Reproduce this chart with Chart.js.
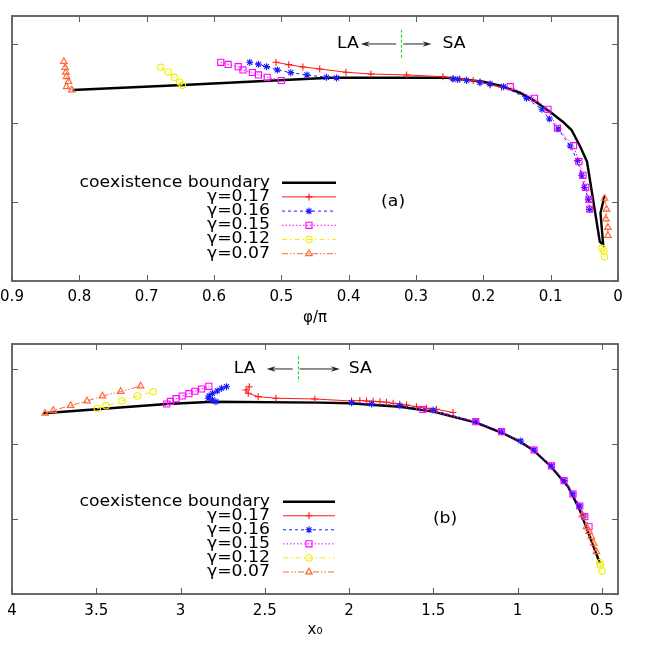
<!DOCTYPE html>
<html><head><meta charset="utf-8">
<script src="https://cdn.jsdelivr.net/npm/chart.js@4/dist/chart.umd.min.js"></script>
<style>
html,body{margin:0;padding:0;background:#fff;overflow:hidden;width:654px;height:654px}
.wrap{position:absolute;left:0;width:654px}
canvas{display:block}
</style></head><body>
<div class="wrap" style="top:0;height:330px"><canvas id="ca"></canvas></div>
<div class="wrap" style="top:330px;height:324px"><canvas id="cb"></canvas></div>
<script>
// ---------- data ----------
const seriesLabels = ['coexistence boundary','γ=0.17','γ=0.16','γ=0.15','γ=0.12','γ=0.07'];

// panel (a): x = phi/pi
const aBoundaryX = [0.810,0.646,0.428,0.254,0.200,0.175,0.146,0.126,0.101,0.082,0.069,0.056,0.046,0.027,0.022,0.026,0.020];
const aBoundaryY = [2.418,2.481,2.573,2.573,2.523,2.472,2.384,2.291,2.143,2.016,1.911,1.700,1.510,0.497,0.456,0.861,1.076];
const aG17X = [0.508,0.489,0.468,0.443,0.404,0.367,0.314,0.260,0.245,0.235,0.225,0.215,0.205,0.190,0.173];
const aG17Y = [2.768,2.738,2.709,2.684,2.642,2.620,2.608,2.586,2.563,2.557,2.544,2.538,2.523,2.481,2.452];
const aG16X = [0.547,0.534,0.522,0.506,0.486,0.462,0.433,0.418,null,0.245,0.238,0.225,0.205,0.190,0.170,0.136,0.113,0.102,0.089,0.071,0.060,0.054,0.050,0.044,0.042];
const aG16Y = [2.768,2.743,2.713,2.671,2.637,2.608,2.578,2.570,null,2.557,2.551,2.538,2.510,2.494,2.459,2.313,2.173,2.051,1.924,1.709,1.523,1.338,1.184,1.034,0.905];
const aG15X = [0.590,0.579,0.564,0.557,0.543,0.534,0.521,0.500,null,0.160,0.124,0.104,0.090,0.066,0.058,0.052,0.048,0.043,0.042];
const aG15Y = [2.768,2.741,2.713,2.671,2.639,2.608,2.578,2.538,null,2.459,2.313,2.173,1.933,1.713,1.510,1.338,1.186,1.034,0.908];
const aG12X = [0.679,0.668,0.659,0.651,0.647,null,0.024,0.021,0.020];
const aG12Y = [2.705,2.646,2.578,2.519,2.477,null,0.414,0.384,0.308];
const aG07X = [0.823,0.821,0.820,0.819,0.816,0.819,0.811,null,0.020,0.017,0.018,0.015,0.015];
const aG07Y = [2.776,2.700,2.642,2.586,2.523,2.459,2.418,null,1.047,0.908,0.785,0.677,0.576];

// panel (b): x = x0
const bBoundaryX = [3.814,3.082,2.806,2.173,1.995,1.699,1.501,1.245,1.086,0.987,0.908,0.810,0.700,0.631,0.512];
const bBoundaryY = [2.409,2.533,2.564,2.551,2.543,2.497,2.431,2.284,2.143,2.031,1.920,1.720,1.431,1.120,0.413];
const bG17X = [2.592,2.612,2.598,2.539,2.434,2.203,1.985,1.936,1.896,1.857,1.817,1.778,1.738,1.699,1.659,1.600,1.540,1.481,1.383];
const bG17Y = [2.764,2.720,2.676,2.631,2.609,2.600,2.573,2.580,2.573,2.569,2.564,2.556,2.543,2.529,2.520,2.497,2.476,2.463,2.420];
const bG16X = [2.727,2.756,2.782,2.810,2.830,2.836,2.810,2.790,null,1.985,1.866,1.699,1.501,1.248,1.095,0.981,0.902,0.799,0.724,0.671,0.631,0.607];
const bG16Y = [2.764,2.743,2.707,2.676,2.640,2.609,2.587,2.564,null,2.551,2.533,2.511,2.453,2.297,2.164,2.040,1.920,1.707,1.511,1.333,1.173,1.040];
const bG15X = [3.082,3.060,3.027,2.990,2.950,2.915,2.875,2.832,null,1.562,1.248,1.095,0.902,0.799,0.724,0.671,0.631,0.601,0.576];
const bG15Y = [2.533,2.567,2.604,2.640,2.671,2.703,2.733,2.769,null,2.460,2.297,2.164,1.920,1.707,1.511,1.333,1.173,1.033,0.897];
const bG12X = [3.494,3.442,3.348,3.256,3.162,null,0.512,0.508,0.499];
const bG12Y = [2.473,2.509,2.573,2.640,2.697,null,0.417,0.387,0.307];
const bG07X = [3.804,3.755,3.652,3.555,3.463,3.355,3.237,null,0.615,0.591,0.576,0.562,0.548,0.532];
const bG07Y = [2.409,2.447,2.513,2.573,2.640,2.700,2.773,null,1.053,0.897,0.831,0.764,0.676,0.564];

// tick values
const aXTicks = [0.9,0.8,0.7,0.6,0.5,0.4,0.3,0.2,0.1,0];
const bXTicks = [4,3.5,3,2.5,2,1.5,1,0.5];
const yTicks = [0,1,2,3];

// ---------- styles ----------
const STYLES = [
  {color:'#000000', width:2.4, dash:[], point:false, r:0},
  {color:'#ff1a1a', width:1, dash:[], point:'cross', r:3.5},
  {color:'#1a1aff', width:1, dash:[3,3], point:'star', r:3.5},
  {color:'#ff00ff', width:1, dash:[1.5,2], point:'rect', r:4.3},
  {color:'#f0f000', width:1, dash:[5,3,1.5,3], point:'circle', r:3.2},
  {color:'#ff6633', width:1, dash:[6,2,1.5,2,1.5,2], point:'triangle', r:3.8}
];
const FONT = '"DejaVu Sans", sans-serif';

function pts(xs, ys){ return xs.map((x,i)=>({x:x, y:ys[i]})); }
function makeDatasets(xList, yList){
  return xList.map((xs,i)=>{
    const s = STYLES[i];
    return {
      label: seriesLabels[i], data: pts(xs, yList[i]), showLine:true, spanGaps:false,
      borderColor:s.color, borderWidth:s.width, borderDash:s.dash, backgroundColor:'rgba(0,0,0,0)',
      pointStyle: s.point || 'circle', pointRadius: s.point ? s.r : 0,
      pointBorderColor:s.color, pointBackgroundColor:'rgba(0,0,0,0)', pointBorderWidth:1.1,
      order: 6 - i, tension:0
    };
  });
}
const fmt = v => String(Number(Number(v).toFixed(2)));

function sText(ctx, txt, x, y, align, size){
  ctx.save();
  ctx.font = size + 'px ' + FONT;
  ctx.textBaseline = 'middle';
  ctx.textAlign = align;
  ctx.fillStyle = '#000';
  ctx.translate(x, y);
  ctx.scale(1.15, 1);
  ctx.fillText(txt, 0, 0);
  ctx.restore();
}

const panelPlugin = {
  id:'panel',
  afterDraw(chart, args, o){
    const ctx = chart.ctx, ca = chart.chartArea, xs = chart.scales.x, ys = chart.scales.y;
    ctx.save();
    // inward tick marks (mirrored)
    ctx.strokeStyle = '#5c5c5c'; ctx.lineWidth = 1; ctx.setLineDash([]);
    ctx.beginPath();
    xs.ticks.forEach(t=>{
      const px = Math.round(xs.getPixelForValue(t.value)) + 0.5;
      ctx.moveTo(px, ca.bottom); ctx.lineTo(px, ca.bottom - 6);
      ctx.moveTo(px, ca.top); ctx.lineTo(px, ca.top + 6);
    });
    ys.ticks.forEach(t=>{
      const py = Math.round(ys.getPixelForValue(t.value)) + 0.5;
      ctx.moveTo(ca.left, py); ctx.lineTo(ca.left + 6, py);
      ctx.moveTo(ca.right, py); ctx.lineTo(ca.right - 6, py);
    });
    ctx.stroke();
    ctx.lineWidth = 1.8; ctx.strokeStyle = '#5c5c5c';
    ctx.strokeRect(ca.left, ca.top, ca.right - ca.left, ca.bottom - ca.top);

    // legend
    const L = o.legend;
    chart.data.datasets.forEach((ds, i)=>{
      const y = ca.top + L.top + i * L.rowH;
      sText(ctx, ds.label, L.textRight, y, 'right', 15);
      const s = STYLES[i];
      ctx.save();
      ctx.strokeStyle = s.color; ctx.lineWidth = s.width; ctx.setLineDash(s.dash);
      ctx.beginPath(); ctx.moveTo(L.x1, y); ctx.lineTo(L.x2, y); ctx.stroke();
      ctx.setLineDash([]);
      if (s.point){
        ctx.strokeStyle = s.color; ctx.fillStyle = 'rgba(0,0,0,0)'; ctx.lineWidth = 1.1;
        Chart.helpers.drawPoint(ctx, {pointStyle:s.point, radius:s.r, rotation:0, borderWidth:1.1}, (L.x1 + L.x2) / 2, y);
      }
      ctx.restore();
    });

    // LA / SA arrows
    const A = o.arrows;
    const ay = ys.getPixelForValue(A.y);
    const pd = xs.getPixelForValue(A.divider);
    const pl = xs.getPixelForValue(A.left);
    const pr = xs.getPixelForValue(A.right);
    ctx.strokeStyle = '#222'; ctx.fillStyle = '#222'; ctx.lineWidth = 1; ctx.setLineDash([]);
    ctx.beginPath(); ctx.moveTo(pd - 5, ay); ctx.lineTo(pl + 4, ay); ctx.stroke();
    ctx.beginPath(); ctx.moveTo(pl, ay); ctx.lineTo(pl + 9, ay - 2.8); ctx.lineTo(pl + 6, ay); ctx.lineTo(pl + 9, ay + 2.8); ctx.closePath(); ctx.fill();
    ctx.beginPath(); ctx.moveTo(pd + 2, ay); ctx.lineTo(pr - 4, ay); ctx.stroke();
    ctx.beginPath(); ctx.moveTo(pr, ay); ctx.lineTo(pr - 9, ay - 2.8); ctx.lineTo(pr - 6, ay); ctx.lineTo(pr - 9, ay + 2.8); ctx.closePath(); ctx.fill();
    ctx.strokeStyle = '#22dd22'; ctx.lineWidth = 1.2; ctx.setLineDash([3,2]);
    ctx.beginPath();
    ctx.moveTo(Math.round(pd) + 0.5, ys.getPixelForValue(A.y + A.half));
    ctx.lineTo(Math.round(pd) + 0.5, ys.getPixelForValue(A.y - A.half));
    ctx.stroke(); ctx.setLineDash([]);
    sText(ctx, 'LA', pl - A.laGap, ay, 'right', 15);
    sText(ctx, 'SA', pr + A.saGap, ay, 'left', 15);

    // panel tag
    sText(ctx, o.tag.text, xs.getPixelForValue(o.tag.x), ys.getPixelForValue(o.tag.y), 'center', 15);
    ctx.restore();
  }
};

function makePanel(id, cfg){
  return new Chart(document.getElementById(id), {
    type:'scatter',
    data:{ datasets: makeDatasets(cfg.xs, cfg.ys) },
    plugins:[panelPlugin],
    options:{
      responsive:true, maintainAspectRatio:false, animation:false, devicePixelRatio:1,
      layout:{ padding:{ top:cfg.padTop, right:36, left:0, bottom:0 } },
      plugins:{ legend:{display:false}, tooltip:{enabled:false}, panel:cfg.panel },
      scales:{
        x:{
          type:'linear', reverse:true, min:cfg.xMin, max:cfg.xMax,
          afterBuildTicks: s => { s.ticks = cfg.xTicks.map(v=>({value:v})); },
          afterFit: s => { s.height = cfg.xAxisH; s.paddingLeft = 0; s.paddingRight = 0; },
          grid:{ display:false, drawTicks:false }, border:{ display:false },
          ticks:{ callback: fmt, color:'#000', font:{ family:FONT, size:15 }, padding:cfg.tickPad, maxRotation:0, autoSkip:false },
          title:{ display:true, text:cfg.xTitle, color:'#000', font:{ family:FONT, size:15 }, padding:{ top:0, bottom:cfg.titlePad } }
        },
        y:{
          type:'linear', min:0, max:cfg.yMax,
          afterBuildTicks: s => { s.ticks = yTicks.map(v=>({value:v})); },
          afterFit: s => { s.width = 12; },
          grid:{ display:false, drawTicks:false }, border:{ display:false },
          ticks:{ display:false }
        }
      }
    }
  });
}

makePanel('ca', {
  xs:[aBoundaryX,aG17X,aG16X,aG15X,aG12X,aG07X],
  ys:[aBoundaryY,aG17Y,aG16Y,aG15Y,aG12Y,aG07Y],
  xMin:0, xMax:0.9, xTicks:aXTicks, yMax:3.354, padTop:16, xAxisH:49, titlePad:3, tickPad:7, xTitle:'φ/π',
  panel:{
    legend:{ top:166.7, rowH:14.2, textRight:270, x1:282, x2:336 },
    arrows:{ divider:0.322, left:0.382, right:0.277, y:3, half:0.18, laGap:2, saGap:11 },
    tag:{ text:'(a)', x:0.334, y:1 }
  }
});

makePanel('cb', {
  xs:[bBoundaryX,bG17X,bG16X,bG15X,bG12X,bG07X],
  ys:[bBoundaryY,bG17Y,bG16Y,bG15Y,bG12Y,bG07Y],
  xMin:0.404, xMax:4, xTicks:bXTicks, yMax:3.333, padTop:14, xAxisH:60, titlePad:15, tickPad:8, xTitle:'x₀',
  panel:{
    legend:{ top:157.7, rowH:14.05, textRight:270, x1:283, x2:335 },
    arrows:{ divider:2.305, left:2.489, right:2.055, y:3, half:0.17, laGap:11, saGap:9 },
    tag:{ text:'(b)', x:1.43, y:1 }
  }
});
</script>
</body></html>
